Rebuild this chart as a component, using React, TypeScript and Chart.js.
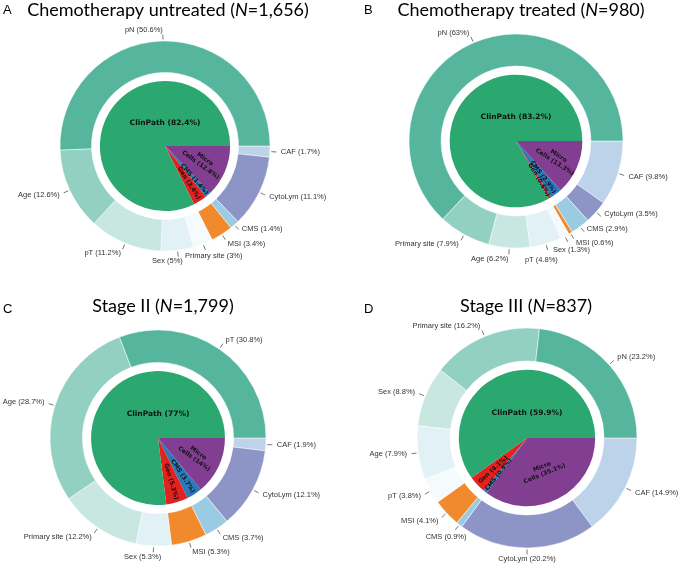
import React, { useEffect, useRef } from 'react';
import { Chart, registerables } from 'chart.js';

Chart.register(...registerables);

// ---------- data ----------
const innerCategories = ['Micro Cells', 'CMS', 'Gen', 'ClinPath'];

const untreatedInner = [12.8, 1.4, 3.4, 82.4];
const untreatedOuterLabels = ['CAF', 'CytoLym', 'CMS', 'MSI', 'Primary site', 'Sex', 'pT', 'Age', 'pN'];
const untreatedOuterValues = [1.7, 11.1, 1.4, 3.4, 3, 5, 11.2, 12.6, 50.6];

const treatedInner = [13.3, 2.9, 0.6, 83.2];
const treatedOuterLabels = ['CAF', 'CytoLym', 'CMS', 'MSI', 'Sex', 'pT', 'Age', 'Primary site', 'pN'];
const treatedOuterValues = [9.8, 3.5, 2.9, 0.6, 1.3, 4.8, 6.2, 7.9, 63];

const stage2Inner = [14, 3.7, 5.3, 77];
const stage2OuterLabels = ['CAF', 'CytoLym', 'CMS', 'MSI', 'Sex', 'Primary site', 'Age', 'pT'];
const stage2OuterValues = [1.9, 12.1, 3.7, 5.3, 5.3, 12.2, 28.7, 30.8];

const stage3Inner = [35.1, 0.9, 4.1, 59.9];
const stage3OuterLabels = ['CAF', 'CytoLym', 'CMS', 'MSI', 'pT', 'Age', 'Sex', 'Primary site', 'pN'];
const stage3OuterValues = [14.9, 20.2, 0.9, 4.1, 3.8, 7.9, 8.8, 16.2, 23.2];

// ---------- styles ----------
const fixedOuterColors: Record<string, string> = {
  CAF: '#bdd3e9',
  CytoLym: '#8c95c6',
  CMS: '#9bcae3',
  MSI: '#f08a2c',
};
const clinRankColors = ['#55b69d', '#92d0c2', '#c8e7e1', '#e2f1f6', '#f5fafc'];
const innerColors = ['#823f92', '#2a7ab8', '#e3221f', '#2ba770'];

type Override = { dx?: number; dy?: number; align?: CanvasTextAlign };

type PanelCfg = {
  letter: string;
  titlePre: string;
  titlePost: string;
  inner: number[];
  outerLabels: string[];
  outerValues: number[];
  left: number;
  top: number;
  width: number;
  height: number;
  cx: number;
  cy: number;
  radius: number;
  titleX: number;
  titleY: number;
  letterX: number;
  letterY: number;
  microRot: number;
  microR: number;
  overrides: Record<string, Override>;
};

const panels: PanelCfg[] = [
  {
    letter: 'A', titlePre: 'Chemotherapy untreated (', titlePost: '=1,656)',
    inner: untreatedInner, outerLabels: untreatedOuterLabels, outerValues: untreatedOuterValues,
    left: 0, top: 0, width: 341, height: 283,
    cx: 165, cy: 146, radius: 105,
    titleX: 168, titleY: 16, letterX: 3, letterY: 14,
    microRot: 36, microR: 0.63,
    overrides: {
      'Primary site': { dx: -22, dy: 2 },
      Sex: { align: 'right', dx: 4, dy: 0 },
      CMS: { dy: -4 },
    },
  },
  {
    letter: 'B', titlePre: 'Chemotherapy treated (', titlePost: '=980)',
    inner: treatedInner, outerLabels: treatedOuterLabels, outerValues: treatedOuterValues,
    left: 341, top: 0, width: 342, height: 283,
    cx: 175, cy: 141, radius: 107,
    titleX: 180, titleY: 16, letterX: 23, letterY: 14,
    microRot: 33, microR: 0.67,
    overrides: {
      CytoLym: { dy: -5 },
      CMS: { dy: -6 },
      Sex: { dx: -17, dy: 4 },
      pT: { dx: -24, dy: 6 },
    },
  },
  {
    letter: 'C', titlePre: 'Stage II (', titlePost: '=1,799)',
    inner: stage2Inner, outerLabels: stage2OuterLabels, outerValues: stage2OuterValues,
    left: 0, top: 283, width: 341, height: 283,
    cx: 158, cy: 155, radius: 108,
    titleX: 163, titleY: 29, letterX: 3, letterY: 30,
    microRot: 36, microR: 0.63,
    overrides: {
      Sex: { dx: 8 },
    },
  },
  {
    letter: 'D', titlePre: 'Stage III (', titlePost: '=837)',
    inner: stage3Inner, outerLabels: stage3OuterLabels, outerValues: stage3OuterValues,
    left: 341, top: 283, width: 342, height: 283,
    cx: 186, cy: 155, radius: 110,
    titleX: 185, titleY: 29, letterX: 23, letterY: 30,
    microRot: -22, microR: 0.53,
    overrides: {
      CytoLym: { align: 'center', dx: 0 },
      CMS: { dx: 14, dy: 4 },
    },
  },
];

function outerColorsFor(labels: string[], values: number[]): string[] {
  const clin = labels
    .map((l, i) => ({ l, v: values[i], i }))
    .filter((d) => !(d.l in fixedOuterColors))
    .sort((a, b) => b.v - a.v);
  const rank: Record<number, number> = {};
  clin.forEach((d, r) => (rank[d.i] = r));
  return labels.map((l, i) => (l in fixedOuterColors ? fixedOuterColors[l] : clinRankColors[rank[i]]));
}

function makePlugin(p: PanelCfg) {
  return {
    id: 'panelDecor' + p.letter,
    afterDraw(chart: any) {
      const ctx: CanvasRenderingContext2D = chart.ctx;
      ctx.save();
      // title
      ctx.fillStyle = '#000';
      ctx.textBaseline = 'alphabetic';
      ctx.textAlign = 'left';
      ctx.font = '13px "Liberation Sans"';
      ctx.fillText(p.letter, p.letterX, p.letterY);
      const normal = '18px Lato';
      const italic = 'italic 18px Lato';
      ctx.font = normal;
      const w1 = ctx.measureText(p.titlePre).width;
      const w3 = ctx.measureText(p.titlePost).width;
      ctx.font = italic;
      const w2 = ctx.measureText('N').width;
      let x = p.titleX - (w1 + w2 + w3) / 2;
      ctx.font = normal;
      ctx.fillText(p.titlePre, x, p.titleY);
      x += w1;
      ctx.font = italic;
      ctx.fillText('N', x, p.titleY);
      x += w2;
      ctx.font = normal;
      ctx.fillText(p.titlePost, x, p.titleY);

      // outer labels
      const outerMeta = chart.getDatasetMeta(0);
      ctx.font = '7.5px "Liberation Sans"';
      ctx.textBaseline = 'middle';
      ctx.strokeStyle = '#555';
      ctx.lineWidth = 0.8;
      outerMeta.data.forEach((arc: any, i: number) => {
        const a = (arc.startAngle + arc.endAngle) / 2;
        const R = arc.outerRadius;
        const c = Math.cos(a);
        const s = Math.sin(a);
        ctx.beginPath();
        ctx.moveTo(arc.x + c * (R + 1.5), arc.y + s * (R + 1.5));
        ctx.lineTo(arc.x + c * (R + 6.5), arc.y + s * (R + 6.5));
        ctx.stroke();
        const label = p.outerLabels[i];
        const ov = p.overrides[label] || {};
        const tx = arc.x + c * (R + 11) + (ov.dx || 0);
        const ty = arc.y + s * (R + 11) + (ov.dy || 0);
        ctx.textAlign = ov.align || (c >= 0 ? 'left' : 'right');
        ctx.fillStyle = '#333';
        ctx.fillText(`${label} (${p.outerValues[i]}%)`, tx, ty);
      });

      // inner labels
      const innerMeta = chart.getDatasetMeta(2);
      innerMeta.data.forEach((arc: any, i: number) => {
        const a = (arc.startAngle + arc.endAngle) / 2;
        const R = arc.outerRadius;
        const val = p.inner[i];
        ctx.fillStyle = '#111';
        ctx.textAlign = 'center';
        ctx.textBaseline = 'middle';
        if (innerCategories[i] === 'ClinPath') {
          ctx.font = 'bold 7.5px "DejaVu Sans"';
          ctx.fillText(`ClinPath (${val}%)`, arc.x, arc.y - R * 0.36);
          return;
        }
        ctx.font = 'bold 6px "DejaVu Sans"';
        if (innerCategories[i] === 'Micro Cells') {
          const r = R * p.microR;
          ctx.save();
          ctx.translate(arc.x + Math.cos(a) * r, arc.y + Math.sin(a) * r);
          ctx.rotate((p.microRot * Math.PI) / 180);
          ctx.fillText('Micro', 0, -3.6);
          ctx.fillText(`Cells (${val}%)`, 0, 3.6);
          ctx.restore();
          return;
        }
        const r = R * 0.68;
        let rot = a;
        const deg = ((a * 180) / Math.PI + 360) % 360;
        if (deg > 90 && deg < 270) rot = a - Math.PI;
        ctx.save();
        ctx.translate(arc.x + Math.cos(a) * r, arc.y + Math.sin(a) * r);
        ctx.rotate(rot);
        ctx.fillText(`${innerCategories[i]} (${val}%)`, 0, 0);
        ctx.restore();
      });
      ctx.restore();
    },
  };
}

function Panel({ p }: { p: PanelCfg }) {
  const ref = useRef<HTMLCanvasElement | null>(null);
  useEffect(() => {
    if (!ref.current) return;
    const m = Math.min(p.cx, p.width - p.cx, p.cy, p.height - p.cy);
    const chart = new Chart(ref.current, {
      type: 'doughnut',
      data: {
        labels: p.outerLabels,
        datasets: [
          {
            data: p.outerValues,
            backgroundColor: outerColorsFor(p.outerLabels, p.outerValues),
            borderColor: '#ffffff',
            borderWidth: 0.5,
            weight: 30,
          } as any,
          {
            data: [1],
            backgroundColor: ['rgba(0,0,0,0)'],
            borderWidth: 0,
            weight: 8,
          } as any,
          {
            data: p.inner,
            backgroundColor: innerColors,
            borderWidth: 0,
            weight: 62,
          } as any,
        ],
      },
      options: {
        responsive: false,
        animation: false,
        events: [],
        rotation: 90,
        cutout: 0,
        radius: p.radius,
        layout: {
          padding: {
            left: p.cx - m,
            right: p.width - p.cx - m,
            top: p.cy - m,
            bottom: p.height - p.cy - m,
          },
        },
        plugins: {
          legend: { display: false },
          tooltip: { enabled: false },
        },
      } as any,
      plugins: [makePlugin(p)],
    });
    return () => chart.destroy();
  }, [p]);
  return (
    <canvas
      ref={ref}
      width={p.width}
      height={p.height}
      style={{ position: 'absolute', left: p.left, top: p.top, width: p.width, height: p.height }}
    />
  );
}

export default function App() {
  return (
    <div style={{ position: 'absolute', left: 0, top: 0, width: 683, height: 566, background: '#fff' }}>
      {panels.map((p) => (
        <Panel key={p.letter} p={p} />
      ))}
    </div>
  );
}
